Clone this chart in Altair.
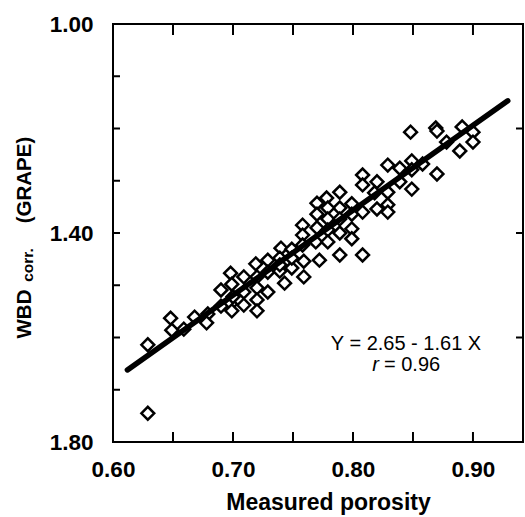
import altair as alt
import pandas as pd

# Measured porosity (x) and WBD corr. (GRAPE) (y)
por = [0.848, 0.869, 0.891, 0.900, 0.900, 0.878, 0.889, 0.829, 0.839, 0.849,
       0.858, 0.849, 0.870, 0.808, 0.820, 0.839, 0.849, 0.808, 0.818, 0.829,
       0.829, 0.820, 0.808, 0.789, 0.778, 0.770, 0.799, 0.789, 0.779, 0.770,
       0.779, 0.789, 0.799, 0.758, 0.770, 0.779, 0.789, 0.799, 0.758, 0.769,
       0.779, 0.799, 0.740, 0.829, 0.749, 0.789, 0.808, 0.772, 0.759, 0.759,
       0.749, 0.729, 0.719, 0.729, 0.739, 0.743, 0.720, 0.709, 0.698, 0.699,
       0.720, 0.709, 0.690, 0.698, 0.709, 0.720, 0.720, 0.690, 0.699, 0.679,
       0.668, 0.678, 0.648, 0.649, 0.659, 0.629, 0.629, 0.729, 0.739, 0.758,
       0.870, 0.700, 0.739, 0.749]
wbd = [1.207, 1.199, 1.197, 1.207, 1.226, 1.226, 1.243, 1.270, 1.276, 1.262,
       1.268, 1.279, 1.287, 1.289, 1.302, 1.302, 1.316, 1.308, 1.323, 1.322,
       1.346, 1.354, 1.360, 1.322, 1.333, 1.343, 1.344, 1.352, 1.352, 1.364,
       1.373, 1.373, 1.364, 1.385, 1.390, 1.394, 1.400, 1.392, 1.404, 1.417,
       1.417, 1.411, 1.429, 1.360, 1.431, 1.442, 1.442, 1.452, 1.454, 1.484,
       1.467, 1.452, 1.459, 1.475, 1.473, 1.496, 1.484, 1.484, 1.477, 1.498,
       1.505, 1.513, 1.509, 1.536, 1.538, 1.528, 1.549, 1.540, 1.549, 1.555,
       1.561, 1.572, 1.563, 1.586, 1.584, 1.614, 1.745, 1.513, 1.448, 1.423,
       1.205, 1.522, 1.461, 1.448]

# Regression line Y = 2.65 - 1.61 X (end points)
fit_x = [0.612, 0.929]
fit_y = [1.662, 1.147]

# Axis ticks and labels
x_ticks = [0.65, 0.70, 0.75, 0.80, 0.85, 0.90]
x_labels = [0.60, 0.70, 0.80, 0.90]
y_ticks_left = [1.1, 1.2, 1.3, 1.4, 1.5, 1.6, 1.7]
y_ticks_right = [1.2, 1.4, 1.6]
y_labels = [1.00, 1.40, 1.80]

W, H = 410, 418
FONT = "Liberation Sans"

xscale = alt.Scale(domain=[0.6, 0.9417], nice=False, zero=False)
yscale = alt.Scale(domain=[1.0, 1.8], reverse=True, nice=False, zero=False)

X = alt.X("x:Q", scale=xscale, axis=alt.Axis(
    values=x_labels, format=".2f", ticks=False, domain=False, grid=False,
    labelFont=FONT, labelFontSize=22.5, labelFontWeight="bold", labelColor="black",
    labelPadding=16, labelFlush=False, labelOverlap=False,
    title="Measured porosity", titleFont=FONT, titleFontSize=23,
    titleFontWeight="bold", titleColor="black", titlePadding=11, titleX=215))
Y = alt.Y("y:Q", scale=yscale, axis=alt.Axis(
    values=y_labels, format=".2f", ticks=False, domain=False, grid=False,
    labelFont=FONT, labelFontSize=22.5, labelFontWeight="bold", labelColor="black",
    labelPadding=20, labelFlush=False, labelOverlap=False, title=""))

pts = pd.DataFrame({"x": por, "y": wbd})
fit = pd.DataFrame({"x": fit_x, "y": fit_y})
xt = pd.DataFrame({"x": x_ticks})
ytl = pd.DataFrame({"y": y_ticks_left})
ytr = pd.DataFrame({"y": y_ticks_right})

points = alt.Chart(pts).mark_point(
    shape="diamond", size=165, filled=True, fill="white", stroke="black",
    strokeWidth=2.5, opacity=1).encode(x=X, y=Y)

line = alt.Chart(fit).mark_line(color="black", strokeWidth=5.5, strokeCap="round").encode(x=X, y=Y)

tb = alt.Chart(xt).mark_rule(color="black", strokeWidth=2).encode(
    x=X, y=alt.value(H), y2=alt.value(H - 10))
tt = alt.Chart(xt).mark_rule(color="black", strokeWidth=2).encode(
    x=X, y=alt.value(0), y2=alt.value(11))
tl = alt.Chart(ytl).mark_rule(color="black", strokeWidth=2).encode(
    y=Y, x=alt.value(0), x2=alt.value(7))
tr = alt.Chart(ytr).mark_rule(color="black", strokeWidth=2).encode(
    y=Y, x=alt.value(W), x2=alt.value(W - 7))


def label(txt, x, y, size=22, weight="bold", angle=0, align="center", style="normal"):
    return alt.Chart(alt.Data(values=[{"t": txt}])).mark_text(
        font=FONT, fontSize=size, fontWeight=weight, angle=angle, align=align,
        baseline="middle", color="black", fontStyle=style).encode(
        text="t:N", x=alt.value(x), y=alt.value(y))


ytitle = (label("WBD", -88, 290, size=20.5, angle=270)
          + label("corr.", -85, 241, size=15.5, angle=270)
          + label("(GRAPE)", -88, 156, size=20.5, angle=270))

eq = label("Y = 2.65 - 1.61 X", 293, 320, size=20, weight="normal")
r1 = label("r", 266, 341, size=20, weight="normal", align="right", style="italic")
r2 = label("= 0.96", 271, 341, size=20, weight="normal", align="left")

chart = alt.layer(points, line, tb, tt, tl, tr, ytitle, eq, r1, r2).properties(
    width=W, height=H,
    autosize=alt.AutoSizeParams(type="none"),
    padding={"left": 113, "top": 24, "right": 2, "bottom": 75},
    background="white",
).configure_view(stroke="black", strokeWidth=2)

chart.save("out.html", embed_options={"renderer": "svg", "actions": False})
